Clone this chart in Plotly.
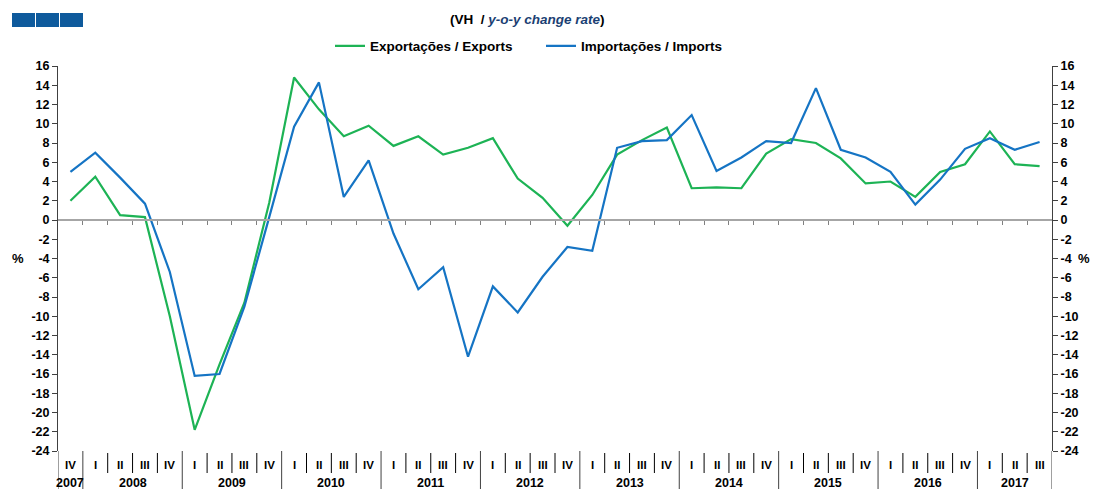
import plotly.graph_objects as go

# ---------------- data ----------------
quarters = ["IV",
            "I", "II", "III", "IV",
            "I", "II", "III", "IV",
            "I", "II", "III", "IV",
            "I", "II", "III", "IV",
            "I", "II", "III", "IV",
            "I", "II", "III", "IV",
            "I", "II", "III", "IV",
            "I", "II", "III", "IV",
            "I", "II", "III", "IV",
            "I", "II", "III"]
years = ["2007", "2008", "2009", "2010", "2011", "2012",
         "2013", "2014", "2015", "2016", "2017"]
quarters_per_year = [1, 4, 4, 4, 4, 4, 4, 4, 4, 4, 3]

exports = [2.0, 4.5, 0.5, 0.3, -10.0, -21.8, -15.0, -8.6, 1.8,
           14.8, 11.5, 8.7, 9.8, 7.7, 8.7, 6.8, 7.5, 8.5, 4.3, 2.3, -0.6,
           2.6, 6.8, 8.3, 9.6, 3.3, 3.4, 3.3, 6.9, 8.4, 8.0, 6.4, 3.8,
           4.0, 2.4, 5.0, 5.8, 9.2, 5.8, 5.6]
imports = [5.0, 7.0, 4.4, 1.7, -5.4, -16.2, -16.0, -9.0, 0.3,
           9.7, 14.3, 2.4, 6.2, -1.4, -7.2, -4.9, -14.2, -6.9, -9.6, -5.9, -2.8,
           -3.2, 7.5, 8.2, 8.3, 10.9, 5.1, 6.5, 8.2, 8.0, 13.7, 7.3, 6.5,
           5.0, 1.6, 4.2, 7.4, 8.5, 7.3, 8.1]

y_ticks = list(range(-24, 17, 2))
y_ticktext = [str(v) for v in y_ticks]

series_names = ["Exportações / Exports", "Importações / Imports"]
colors = ["#1DB355", "#1574C4"]

# ---------------- geometry helpers ----------------
# The page body has an 8px default margin on every side; keep the figure
# inside the window so no scrollbars appear.
OFF = 8
VW, VH = 1107, 497                      # browser window
W, H = VW - 2 * OFF, VH - 2 * OFF       # figure size
L, R, T, B = 58, 1052, 66, 451          # plot area in window pixels
YMIN, YMAX = -24, 16


def px_x(px):
    return (px - L) / (R - L)


def px_y(py):
    return (B - py) / (B - T)


n = len(quarters)
xs = list(range(n))
FONT = "Liberation Sans, Arial, sans-serif"

fig = go.Figure()
fig.add_trace(go.Scatter(x=xs, y=exports, mode="lines", name=series_names[0],
                         line=dict(color=colors[0], width=2.2)))
fig.add_trace(go.Scatter(x=xs, y=imports, mode="lines", name=series_names[1],
                         line=dict(color=colors[1], width=2.2)))
# empty trace to carry right axis
fig.add_trace(go.Scatter(x=[], y=[], yaxis="y2", showlegend=False, hoverinfo="skip"))

boundaries = [i + 0.5 for i in range(n - 1)]
zero_pos = (0 - YMIN) / (YMAX - YMIN)

axis_font = dict(family=FONT, size=12.5, color="#000000", weight=700)

fig.update_layout(
    width=W, height=H, autosize=False,
    margin=dict(l=L - OFF, r=(W + OFF) - R, t=T - OFF, b=(H + OFF) - B, pad=0,
                autoexpand=False),
    paper_bgcolor="white", plot_bgcolor="white",
    font=dict(family=FONT, color="#000000"),
    showlegend=True,
    legend=dict(orientation="h", xref="container", yref="container",
                x=(330 - OFF) / W, y=1 - (46 - OFF) / H, xanchor="left", yanchor="middle",
                font=dict(family=FONT, size=13.5, color="#000000", weight=700),
                entrywidth=166, entrywidthmode="pixels",
                bgcolor="rgba(0,0,0,0)", itemwidth=30),
    xaxis=dict(range=[-0.5, n - 0.5], showgrid=False, zeroline=False, automargin=False,
               showline=True, linecolor="#A6A6A6", linewidth=1.5,
               tickmode="array", tickvals=boundaries, ticks="outside", ticklen=4,
               tickcolor="#808080", tickwidth=1, showticklabels=False,
               anchor="free", position=zero_pos, fixedrange=True),
    yaxis=dict(range=[YMIN, YMAX], showgrid=False, zeroline=False, automargin=False,
               showline=True, linecolor="#404040", linewidth=1,
               tickmode="array", tickvals=y_ticks, ticktext=y_ticktext,
               ticks="outside", ticklen=5, tickcolor="#404040",
               tickfont=axis_font, fixedrange=True),
    yaxis2=dict(range=[YMIN, YMAX], overlaying="y", side="right", anchor="x",
                showgrid=False, zeroline=False, automargin=False,
                showline=True, linecolor="#404040", linewidth=1,
                tickmode="array", tickvals=y_ticks, ticktext=y_ticktext,
                ticks="outside", ticklen=5, tickcolor="#404040",
                tickfont=axis_font, fixedrange=True),
)

shapes = []
annotations = []

# decorative squares top-left
for x0 in (12, 36, 60):
    shapes.append(dict(type="rect", xref="paper", yref="paper",
                       x0=px_x(x0), x1=px_x(x0 + 23), y0=px_y(27), y1=px_y(13),
                       fillcolor="#0E5A9C", line=dict(width=0)))

# title
annotations.append(dict(
    xref="paper", yref="paper", x=px_x(527), y=px_y(20), showarrow=False,
    xanchor="center", yanchor="middle",
    text="(VH  / <i><span style='color:#1B3F73'>y-o-y change rate</span></i>)",
    font=dict(family=FONT, size=13.5, color="#000000", weight=700)))

# % labels (placed from the plot edges with pixel shifts)
pct_font = dict(family=FONT, size=13, color="#000000", weight=700)
annotations.append(dict(xref="paper", yref="paper", x=0, xshift=18 - L, y=px_y(258),
                        showarrow=False, text="%", xanchor="center", yanchor="middle",
                        font=pct_font))
annotations.append(dict(xref="paper", yref="paper", x=1, xshift=1084 - R, y=px_y(258),
                        showarrow=False, text="%", xanchor="center", yanchor="middle",
                        font=pct_font))

# bottom category table
year_bounds = []
acc = 0
for c in quarters_per_year[:-1]:
    acc += c
    year_bounds.append(acc - 0.5)

for b in boundaries:
    if b in year_bounds:
        continue
    shapes.append(dict(type="line", xref="x", yref="paper", x0=b, x1=b,
                       y0=px_y(453), y1=px_y(473), line=dict(color="#000000", width=1)))
for b in year_bounds + [-0.5, n - 0.5]:
    shapes.append(dict(type="line", xref="x", yref="paper", x0=b, x1=b,
                       y0=px_y(451), y1=px_y(489), line=dict(color="#404040", width=1)))

for i, q in enumerate(quarters):
    annotations.append(dict(xref="x", yref="paper", x=i, y=px_y(465), showarrow=False,
                            text=q, xanchor="center", yanchor="middle",
                            font=dict(family=FONT, size=11.5, color="#000000", weight=700)))

start = 0
for yr, c in zip(years, quarters_per_year):
    center = start + (c - 1) / 2
    annotations.append(dict(xref="x", yref="paper", x=center, y=px_y(483), showarrow=False,
                            text=yr, xanchor="center", yanchor="middle",
                            font=dict(family=FONT, size=12.5, color="#000000", weight=700)))
    start += c

fig.update_layout(shapes=shapes, annotations=annotations)

fig.write_html("out.html")
